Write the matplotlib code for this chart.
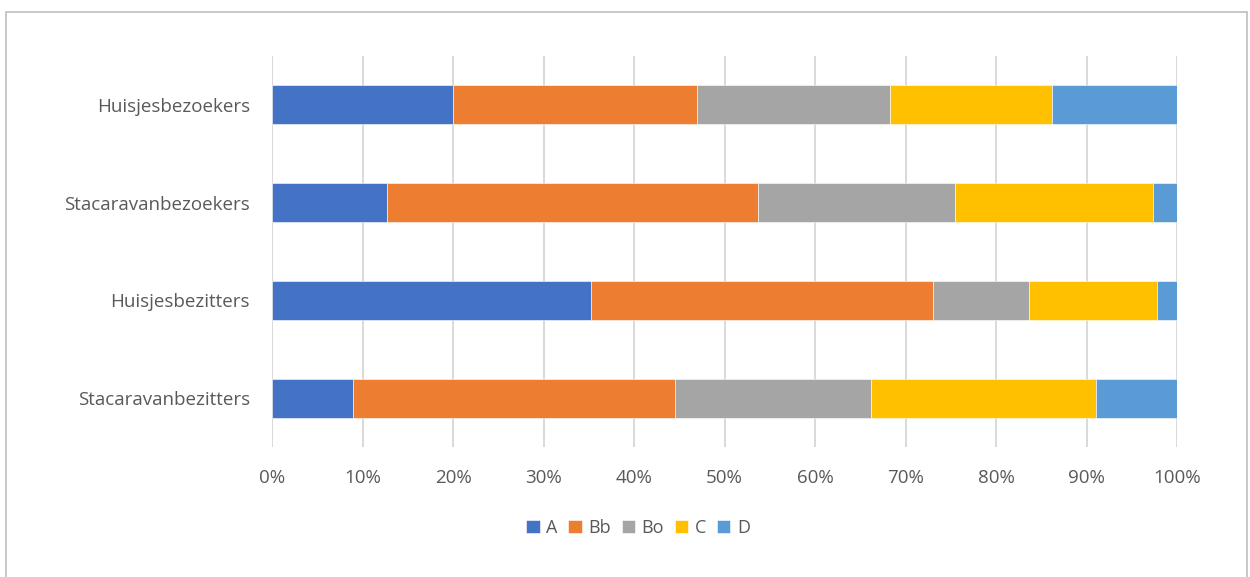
import numpy as np
import matplotlib.pyplot as plt
from matplotlib.patches import Rectangle
from matplotlib.ticker import PercentFormatter

# groups, top to bottom
groups = ["Huisjesbezoekers", "Stacaravanbezoekers", "Huisjesbezitters", "Stacaravanbezitters"]
series = ["A", "Bb", "Bo", "C", "D"]

# percentage per segment
A  = [20.0, 12.7, 35.2, 9.0]
Bb = [27.0, 41.0, 37.8, 35.5]
Bo = [21.3, 21.8, 10.6, 21.7]
C  = [17.9, 21.8, 14.2, 24.9]
D  = [13.8, 2.7, 2.2, 8.9]

colors = ["#4472C4", "#ED7D31", "#A5A5A5", "#FFC000", "#5B9BD5"]

plt.rcParams['font.family'] = ['Open Sans', 'DejaVu Sans']

fig = plt.figure(figsize=(12.5, 5.77), dpi=100)
ax = fig.add_axes([272/1250, 1 - 447/577, 905/1250, 391/577])

y = np.arange(len(groups))[::-1]
left = np.zeros(len(groups))
for name, vals, col in zip(series, [A, Bb, Bo, C, D], colors):
    vals = np.array(vals)
    ax.barh(y, vals, left=left, height=0.4, color=col, label=name,
            edgecolor='white', linewidth=0.4, zorder=3)
    left += vals

ax.set_xlim(0, 100)
ax.set_ylim(-0.5, len(groups) - 0.5)
ax.set_xticks(np.arange(0, 101, 10))
ax.xaxis.set_major_formatter(PercentFormatter(decimals=0))
ax.set_yticks(y)
ax.set_yticklabels(groups)
ax.grid(axis='x', color='#D9D9D9', linewidth=1.4, zorder=0)
for s in ax.spines.values():
    s.set_visible(False)
ax.tick_params(length=0, labelsize=13.5, colors='#595959')
ax.tick_params(axis='x', pad=16)
ax.tick_params(axis='y', pad=16)

fig.legend(loc='center', bbox_to_anchor=(638/1250, 1 - 528/577), ncol=5,
           frameon=False, fontsize=13, handlelength=0.75, handleheight=0.75,
           handletextpad=0.35, columnspacing=0.6, labelcolor='#595959')

# outer chart border
fig.patches.append(Rectangle((6/1250, -0.01), 1241/1250, 1 - 12/577 + 0.01,
                             transform=fig.transFigure, fill=False,
                             edgecolor='#BFBFBF', linewidth=1.2))

fig.savefig("out.png", dpi=100)
